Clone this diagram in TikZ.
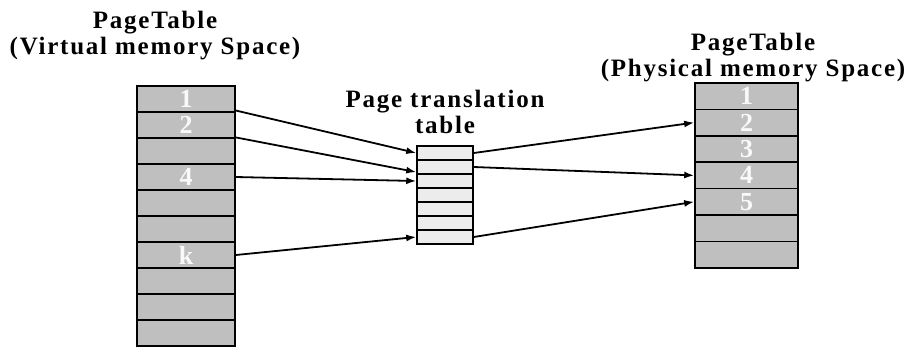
\documentclass[tikz,border=0pt]{standalone}
\usepackage{fontspec}
\setmainfont{Liberation Serif}
\newfontfamily\headfont{Liberation Serif}[LetterSpace=7]
\usepackage{tikz}
\usetikzlibrary{arrows.meta}

\begin{document}
\begin{tikzpicture}[x=1pt,y=-1pt,
  vrow/.style={draw, line width=1.6pt, fill=gray!50, text=gray!5, inner sep=0pt,
    minimum width=98pt, minimum height=26pt, font=\fontsize{26}{26}\selectfont\bfseries},
  prow/.style={vrow, minimum width=103pt, minimum height=26.4pt},
  trow/.style={draw, line width=1.5pt, fill=gray!15, inner sep=0pt,
    minimum width=56pt, minimum height=14pt},
  title/.style={align=center, inner sep=0pt, font=\headfont\bfseries\fontsize{25}{26}\selectfont},
  link/.style={line width=1.8pt, -{Latex[length=10pt,width=7pt]}}]

\useasboundingbox (0,0) rectangle (914,346);

% virtual memory page table
\node[vrow] (v1) at (186,99) {1};
\node[vrow] (v2) at (186,125) {2};
\node[vrow] (v3) at (186,151) {};
\node[vrow] (v4) at (186,177) {4};
\node[vrow] (v5) at (186,203) {};
\node[vrow] (v6) at (186,229) {};
\node[vrow] (vk) at (186,255) {k};
\node[vrow] (v8) at (186,281) {};
\node[vrow] (v9) at (186,307) {};
\node[vrow] (v10) at (186,333) {};

% page translation table
\node[trow] (t1) at (445,153) {};
\node[trow] (t2) at (445,167) {};
\node[trow] (t3) at (445,181) {};
\node[trow] (t4) at (445,195) {};
\node[trow] (t5) at (445,209) {};
\node[trow] (t6) at (445,223) {};
\node[trow] (t7) at (445,237) {};

% physical memory page table
\node[prow] (p1) at (746.5,96.2) {1};
\node[prow] (p2) at (746.5,122.6) {2};
\node[prow] (p3) at (746.5,149) {3};
\node[prow] (p4) at (746.5,175.4) {4};
\node[prow] (p5) at (746.5,201.8) {5};
\node[prow] (p6) at (746.5,228.2) {};
\node[prow] (p7) at (746.5,254.6) {};

% titles
\node[title] (vtitle) at (155,36) {PageTable\\(Virtual memory Space)};
\node[title] (ttitle) at (445,112) {Page translation\\table};
\node[title] (ptitle) at (753,58) {PageTable\\(Physical memory Space)};

% virtual -> translation
\draw[link] (v1.-13) -- (t1.west);
\draw[link] (v2.-14) -- (t2.190);
\draw[link] (v4.east) -- (t3.west);
\draw[link] (vk.east) -- (t7.west);

% translation -> physical
\draw[link] (t1.east) -- (p2.west);
\draw[link] (t2.east) -- (p4.west);
\draw[link] (t7.east) -- (p5.west);

\end{tikzpicture}
\end{document}
